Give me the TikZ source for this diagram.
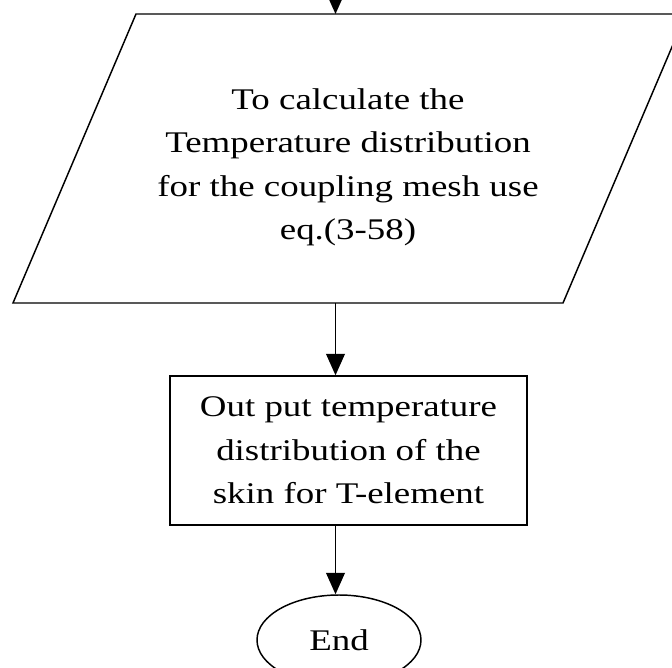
\documentclass[tikz,border=0pt]{standalone}
\usepackage{fontspec}
\setmainfont{Liberation Serif}[FakeStretch=1.23]
\usetikzlibrary{shapes.geometric,arrows.meta}

\tikzset{
  txt/.style={align=center, inner sep=0pt, font=\fontsize{22.5}{32.6}\selectfont},
  flow/.style={txt, draw, line width=1.1pt},
  proc/.style={flow, rectangle, minimum width=267.75pt, minimum height=111.75pt},
  term/.style={flow, ellipse, minimum width=123pt, minimum height=67.5pt},
  go/.style={line width=1.1pt, -{Triangle[length=16pt,width=14pt]}}
}

\begin{document}
\begin{tikzpicture}[x=0.75pt,y=0.75pt,yscale=-1,xscale=1]
		\useasboundingbox (0,0) rectangle (672,668);
		% input/output block, right corner runs off the page
		\draw[line width=1.1pt, line join=miter] (136,14) -- (686,14) -- (563,303) -- (13,303) -- cycle;
		\coordinate (calc-n) at (335.5,14);
		\coordinate (calc-s) at (335.5,303);
		\coordinate (from) at (335.5,-30);
		\node[txt] (calc) at (348,158.5) {\rule{0pt}{28.5pt}To calculate the\\Temperature distribution\\for the coupling mesh use\\eq.(3-58)};
		\node[proc] (out) at (348.5,450.5) {Out put temperature\\distribution of the\\skin for T-element};
		\node[term] (end) at (339,640) {End};
		\draw[go] (from) -- (calc-n);
		\draw[go] (calc-s) -- (out.north -| calc-s);
		\draw[go] (out.south -| calc-s) -- (end.north -| calc-s);
\end{tikzpicture}
\end{document}
